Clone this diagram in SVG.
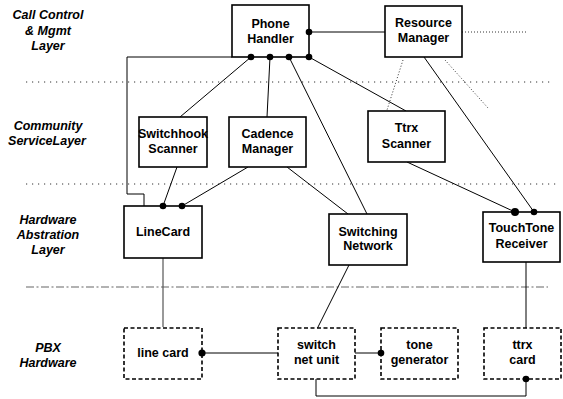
<svg xmlns="http://www.w3.org/2000/svg" width="563" height="399" viewBox="0 0 563 399">
<style>
.bg{fill:#fff}
.box{fill:#fff;stroke:#000;stroke-width:1.6}
.hw{fill:#fff;stroke:#000;stroke-width:1.6;stroke-dasharray:4,2.5}
.t{font-family:"Liberation Sans",Arial,sans-serif;font-weight:bold;font-size:12.5px;text-anchor:middle;fill:#000}
.lay{font-family:"Liberation Sans",Arial,sans-serif;font-weight:bold;font-style:italic;font-size:12.5px;text-anchor:middle;fill:#000}
.c{fill:none;stroke:#000;stroke-width:1}
.g{fill:none;stroke:#555;stroke-width:1.2}
.dot{fill:none;stroke:#333;stroke-width:1;stroke-dasharray:1.2,4.8}
.fdot{fill:none;stroke:#000;stroke-width:0.8;stroke-dasharray:1,2}
.dd{fill:none;stroke:#666;stroke-width:1.2;stroke-dasharray:8,2.5,2,2.5}
.j{fill:#000}
</style>
<rect class="bg" width="563" height="399"/>
<g id="layers">
<line class="dot" x1="26" y1="82" x2="552" y2="82"/>
<line class="dot" x1="26" y1="184" x2="560" y2="184"/>
<line class="dd" x1="26" y1="287" x2="548" y2="287"/>
<text class="lay" x="48" y="19">Call Control</text>
<text class="lay" x="48" y="34.5">&amp; Mgmt</text>
<text class="lay" x="48" y="50">Layer</text>
<text class="lay" x="48" y="130">Community</text>
<text class="lay" x="47" y="145">ServiceLayer</text>
<text class="lay" x="48" y="224">Hardware</text>
<text class="lay" x="48" y="239">Abstration</text>
<text class="lay" x="48" y="254">Layer</text>
<text class="lay" x="48" y="352">PBX</text>
<text class="lay" x="48" y="367">Hardware</text>
</g>
<g id="connectors">
<polyline class="c" points="232,57 127,57 127,194 144,194 144,206"/>
<line class="c" x1="309" y1="32" x2="385" y2="32"/>
<line class="fdot" x1="462" y1="32" x2="527" y2="32"/>
<line class="c" x1="251" y1="57" x2="180" y2="117"/>
<line class="c" x1="270" y1="57" x2="267" y2="117"/>
<line class="c" x1="289" y1="57" x2="367" y2="214"/>
<line class="c" x1="309" y1="57" x2="406" y2="111"/>
<line class="c" x1="424" y1="57" x2="534" y2="212"/>
<line class="fdot" x1="403" y1="60" x2="387" y2="110"/>
<line class="fdot" x1="445" y1="60" x2="488" y2="108"/>
<line class="c" x1="177" y1="167" x2="163" y2="206"/>
<line class="c" x1="248" y1="167" x2="182" y2="206"/>
<line class="c" x1="287" y1="167" x2="348" y2="214"/>
<line class="c" x1="407" y1="162" x2="515" y2="212"/>
<line class="g" x1="163" y1="258" x2="163" y2="327"/>
<line class="c" x1="349" y1="265" x2="317" y2="329"/>
<line class="c" x1="526" y1="262" x2="526" y2="329"/>
<line class="c" x1="202" y1="353" x2="278" y2="353"/>
<line class="c" x1="355" y1="353" x2="381" y2="353"/>
<polyline class="c" points="316,379 316,396 526,396 526,379"/>
</g>
<g id="phone-handler">
<rect class="box" x="232" y="5" width="77" height="52"/>
<text class="t" x="270.5" y="28">Phone</text>
<text class="t" x="270.5" y="43">Handler</text>
</g>
<g id="resource-manager">
<rect class="box" x="385" y="6" width="77" height="51"/>
<text class="t" x="423.5" y="27">Resource</text>
<text class="t" x="423.5" y="42">Manager</text>
</g>
<g id="switchhook-scanner">
<rect class="box" x="139" y="117" width="68" height="50"/>
<text class="t" x="173" y="138">Switchhook</text>
<text class="t" x="173" y="153">Scanner</text>
</g>
<g id="cadence-manager">
<rect class="box" x="229" y="117" width="77" height="50"/>
<text class="t" x="267.5" y="138">Cadence</text>
<text class="t" x="267.5" y="153">Manager</text>
</g>
<g id="ttrx-scanner">
<rect class="box" x="368" y="111" width="77" height="51"/>
<text class="t" x="406.5" y="132">Ttrx</text>
<text class="t" x="406.5" y="148">Scanner</text>
</g>
<g id="linecard">
<rect class="box" x="124" y="206" width="78" height="52"/>
<text class="t" x="163" y="236">LineCard</text>
</g>
<g id="switching-network">
<rect class="box" x="329" y="214" width="78" height="51"/>
<text class="t" x="368" y="236">Switching</text>
<text class="t" x="368" y="250">Network</text>
</g>
<g id="touchtone-receiver">
<rect class="box" x="483" y="212" width="77" height="50"/>
<text class="t" x="521.5" y="232">TouchTone</text>
<text class="t" x="521.5" y="248">Receiver</text>
</g>
<g id="line-card">
<rect class="hw" x="124" y="328" width="78" height="51"/>
<text class="t" x="163" y="357">line card</text>
</g>
<g id="switch-net-unit">
<rect class="hw" x="278" y="328" width="77" height="51"/>
<text class="t" x="316.5" y="349">switch</text>
<text class="t" x="316.5" y="364">net unit</text>
</g>
<g id="tone-generator">
<rect class="hw" x="381" y="328" width="77" height="51"/>
<text class="t" x="419.5" y="349">tone</text>
<text class="t" x="419.5" y="364">generator</text>
</g>
<g id="ttrx-card">
<rect class="hw" x="484" y="328" width="77" height="51"/>
<text class="t" x="522.5" y="349">ttrx</text>
<text class="t" x="522.5" y="364">card</text>
</g>
<g id="junctions">
<circle class="j" cx="251" cy="57" r="3.3"/>
<circle class="j" cx="270" cy="57" r="3.3"/>
<circle class="j" cx="289" cy="57" r="3.3"/>
<circle class="j" cx="309" cy="57" r="3.3"/>
<circle class="j" cx="309" cy="32" r="3.3"/>
<circle class="j" cx="163" cy="206" r="3.3"/>
<circle class="j" cx="182" cy="206" r="3.3"/>
<circle class="j" cx="515" cy="212" r="4"/>
<circle class="j" cx="534" cy="212" r="3.3"/>
<circle class="j" cx="202" cy="353" r="3.6"/>
<circle class="j" cx="381" cy="353" r="3.3"/>
<circle class="j" cx="526" cy="379" r="3.3"/>
</g>
</svg>
